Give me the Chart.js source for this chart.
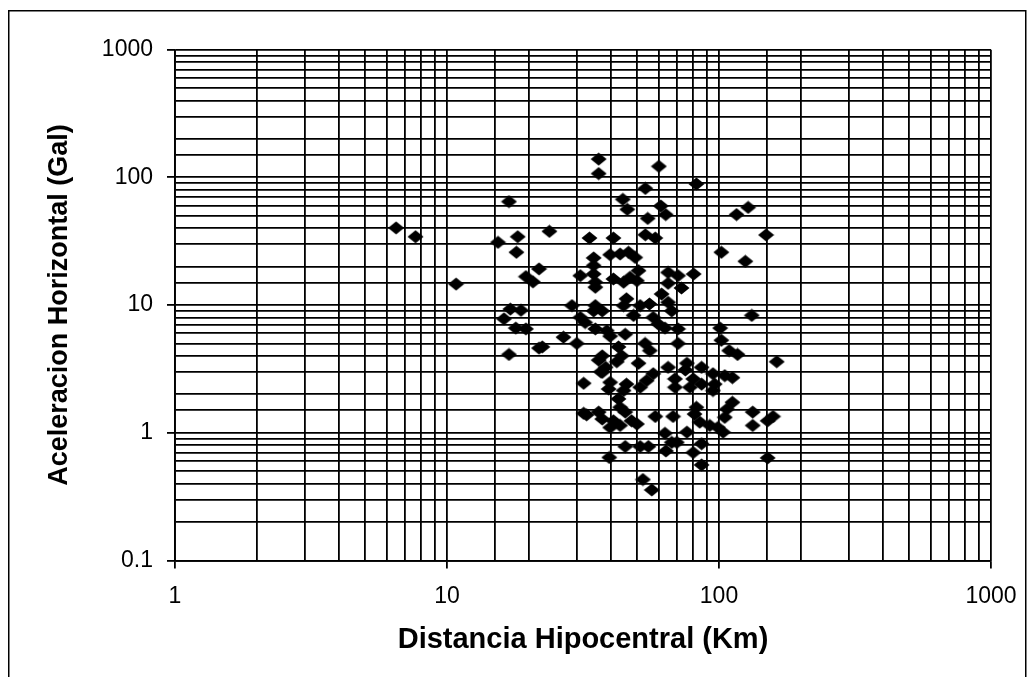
<!DOCTYPE html>
<html><head><meta charset="utf-8">
<script src="https://cdn.jsdelivr.net/npm/chart.js@4"></script>
<style>html,body{margin:0;padding:0;background:#fff;}#wrap{width:1034px;height:677px;}</style>
</head><body><div id="wrap"><canvas id="c" width="1034" height="677"></canvas></div>
<script>
const distanciaKm = [
  6.5, 7.66, 10.8, 16.9, 15.4, 18.2, 18.0, 23.8, 21.8, 19.5, 20.7, 17.1, 18.7, 16.2, 17.9, 19.5, 16.9, 22.4, 21.8, 26.8,
  30.0, 28.8, 30.9, 30.9, 32.2, 31.8, 31.8, 32.6,
  33.4, 36.1, 36.1, 34.6, 34.6, 34.6, 35.1, 35.1, 35.1, 34.6, 37.2, 35.1, 38.7, 39.8, 37.2, 36.1, 38.3, 37.2, 36.1, 37.2,
  40.9, 39.8, 40.9, 39.8, 39.3, 40.9, 39.8, 39.5, 36.8,
  44.3, 46.0, 43.3, 46.5, 49.2, 44.6, 47.1, 50.6, 49.9, 45.7, 44.6, 48.5, 45.2, 42.7, 43.9, 42.1, 45.7, 44.6, 42.7, 43.3,
  45.2, 43.3, 47.7, 49.9, 45.2,
  53.6, 54.7, 53.6, 58.3, 60.1, 51.3, 55.5, 57.3, 59.8, 53.5, 55.7, 50.6, 57.3, 54.2, 51.3, 58.3, 51.3, 55.0, 52.5, 56.6,
  61.1, 63.7, 65.0, 70.7, 65.0, 72.8, 61.5, 65.0, 67.0, 63.3, 70.7, 70.7, 65.0, 76.2, 75.2, 68.9, 68.9, 80.4, 78.2, 67.8,
  63.3, 76.2, 63.8, 67.0, 70.0, 80.4,
  82.6, 80.7, 86.3, 95.0, 86.3, 96.4, 95.0, 82.6, 81.3, 85.0, 92.5, 99.0, 86.3, 86.3,
  102, 116, 128, 149, 125, 132, 101, 102, 109, 117, 163, 105, 112, 112, 107, 105, 133, 133, 151, 158, 103.5, 151
];
const aceleracionGal = [
  40.2, 34.3, 14.6, 64.6, 31.0, 34.3, 25.9, 37.8, 19.2, 16.7, 15.2, 9.3, 9.1, 7.8, 6.6, 6.5, 4.1, 4.7, 4.6, 5.6,
  5.0, 9.9, 17.0, 8.0, 7.3, 2.44, 1.42, 1.38,
  33.5, 139, 107, 23.4, 20.4, 17.5, 15.1, 13.8, 9.9, 9.0, 9.0, 6.5, 6.3, 5.7, 4.0, 3.7, 3.25, 2.97, 1.45, 1.28,
  33.5, 24.8, 16.0, 2.48, 2.2, 1.24, 1.10, 0.64, 3.0,
  67.3, 56.1, 25.1, 25.9, 23.6, 15.1, 16.5, 18.6, 15.5, 11.2, 9.9, 8.3, 5.9, 4.7, 4.0, 3.6, 2.4, 2.14, 1.84, 1.58,
  1.45, 1.14, 1.24, 1.17, 0.78,
  82, 47.7, 35.5, 33.5, 122, 9.9, 10.2, 8.0, 7.1, 5.0, 4.4, 3.5, 2.9, 2.56, 2.27, 1.34, 0.78, 0.78, 0.43, 0.356,
  59.7, 51.1, 18.0, 17.0, 14.8, 13.6, 12.2, 10.5, 9.0, 6.6, 6.5, 5.0, 3.25, 3.5, 3.1, 2.64, 2.27, 2.64, 2.27, 1.34,
  0.99, 1.01, 0.72, 0.84, 0.84, 0.70,
  88.8, 17.5, 3.25, 2.9, 2.4, 2.4, 2.14, 1.58, 1.40, 1.21, 1.14, 1.10, 0.82, 0.56,
  25.9, 51.1, 58.2, 35.4, 22.0, 8.3, 6.6, 5.3, 4.4, 4.1, 3.6, 2.8, 2.7, 1.73, 1.53, 1.32, 1.45, 1.14, 1.24, 1.34, 1.01, 0.635
];
const xTickValues = [1, 10, 100, 1000];
const xTickLabels = ['1', '10', '100', '1000'];
const yTickValues = [0.1, 1, 10, 100, 1000];
const yTickLabels = ['0.1', '1', '10', '100', '1000'];
const xTitle = 'Distancia Hipocentral (Km)';
const yTitle = 'Aceleracion Horizontal (Gal)';

const points = distanciaKm.map((d, i) => ({x: d, y: aceleracionGal[i]}));

function findLabel(vals, labels, v) {
  for (let i = 0; i < vals.length; i++) {
    if (Math.abs(vals[i] - v) / vals[i] < 1e-6) return labels[i];
  }
  return null;
}
function isMajor(vals, v) { return findLabel(vals, vals.map(String), v) !== null; }

// diamond marker
const marker = document.createElement('canvas');
marker.width = 17; marker.height = 14;
(function(){
  const g = marker.getContext('2d');
  g.fillStyle = '#000';
  g.beginPath();
  g.moveTo(0.5, 7); g.lineTo(8.5, 0.5); g.lineTo(16.5, 7); g.lineTo(8.5, 13.5); g.closePath();
  g.fill();
})();

const frame = {
  id: 'frame',
  beforeDraw(chart) {
    const c = chart.ctx;
    c.save();
    c.fillStyle = '#fff';
    c.fillRect(0, 0, chart.width, chart.height);
    c.strokeStyle = '#000';
    c.lineWidth = 1.5;
    c.strokeRect(8.75, 10.75, 1017, 700);
    c.restore();
  }
};

const FONT = "'Liberation Sans', Arial, sans-serif";

new Chart(document.getElementById('c'), {
  type: 'scatter',
  data: {
    datasets: [{
      data: points,
      pointStyle: marker,
      pointRadius: 7,
      pointHoverRadius: 7,
      backgroundColor: '#000',
      borderColor: '#000'
    }]
  },
  plugins: [frame],
  options: {
    responsive: false,
    devicePixelRatio: 1,
    animation: false,
    events: [],
    layout: { padding: { left: 0, right: 43, top: 49.7, bottom: 0 } },
    plugins: { legend: { display: false }, tooltip: { enabled: false } },
    scales: {
      x: {
        type: 'logarithmic',
        position: 'bottom',
        min: 1, max: 1000,
        afterFit(s) { s.height = 116.6; },
        border: { color: '#000', width: 1.8 },
        grid: {
          color: '#000', lineWidth: 1.8, drawTicks: true, tickLength: 8, tickWidth: 1.8,
          tickColor: (ctx) => (ctx.tick && isMajor(xTickValues, ctx.tick.value)) ? '#000' : 'rgba(0,0,0,0)'
        },
        ticks: {
          autoSkip: false, maxRotation: 0, minRotation: 0, padding: 14.8, color: '#000',
          font: { family: FONT, size: 23 },
          callback: (v) => findLabel(xTickValues, xTickLabels, v) || ''
        },
        title: {
          display: true, text: xTitle, color: '#000',
          font: { family: FONT, size: 29, weight: 'bold' },
          padding: { top: 0, bottom: 19.6 }
        }
      },
      y: {
        type: 'logarithmic',
        position: 'left',
        min: 0.1, max: 1000,
        afterFit(s) { s.width = 175; },
        border: { color: '#000', width: 1.8 },
        grid: {
          color: '#000', lineWidth: 1.8, drawTicks: true, tickLength: 8, tickWidth: 1.8,
          tickColor: (ctx) => (ctx.tick && isMajor(yTickValues, ctx.tick.value)) ? '#000' : 'rgba(0,0,0,0)'
        },
        ticks: {
          autoSkip: false, padding: 14, color: '#000',
          font: { family: FONT, size: 23 },
          callback: (v) => findLabel(yTickValues, yTickLabels, v) || ''
        },
        title: {
          display: true, text: yTitle, color: '#000',
          font: { family: FONT, size: 27, weight: 'bold' },
          padding: { top: 43.8, bottom: 0 }
        }
      }
    }
  }
});
</script>
</body></html>
